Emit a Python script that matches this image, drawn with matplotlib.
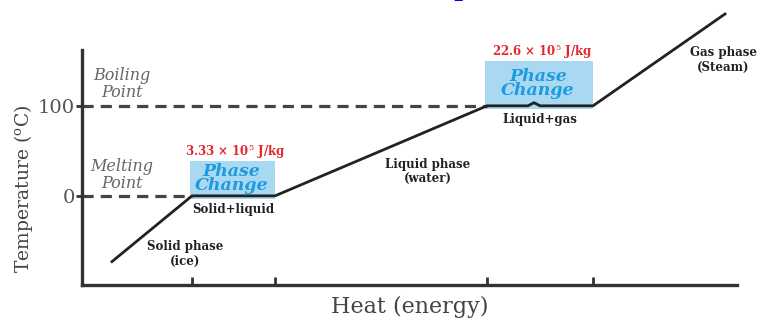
import matplotlib.pyplot as plt
from matplotlib.patches import Rectangle

plt.rcParams["font.family"] = "DejaVu Serif"
plt.rcParams["mathtext.fontset"] = "dejavuserif"

# heating curve of water (heat in arbitrary units, temperature in C)
heat = [30, 110, 193, 405, 446, 452, 458, 511, 643]
temp = [-73, 0, 0, 100, 100, 103.5, 100, 100, 202]

heat_ticks = [110, 193, 405, 511]
temp_ticks = [0, 100]
temp_ticklabels = ["0", "100"]

latent = ["3.33 × 10$^5$ J/kg", "22.6 × 10$^5$ J/kg"]
plateaus = [(110, 193, 0), (405, 511, 100)]
mixtures = ["Solid+liquid", "Liquid+gas"]

fig = plt.figure(figsize=(7.57, 3.2), dpi=100)
ax = fig.add_axes([82 / 757, 35 / 320, 655 / 757, 235 / 320])
ax.set_xlim(0, 655)
ax.set_ylim(-99, 162)

for s in ["top", "right"]:
    ax.spines[s].set_visible(False)
for s in ["left", "bottom"]:
    ax.spines[s].set_linewidth(2.4)
    ax.spines[s].set_color("#333333")

ax.set_xticks(heat_ticks)
ax.set_xticklabels([])
ax.tick_params(axis="x", direction="in", length=6, width=2, color="#333333")
ax.set_yticks(temp_ticks)
ax.set_yticklabels(temp_ticklabels, fontsize=14, color="#555555")
ax.tick_params(axis="y", direction="out", length=4, width=2, color="#333333", pad=1)

# shaded phase-change boxes
for (x0, x1, t), lab, mix in zip(plateaus, latent, mixtures):
    h = 42 if t == 0 else 53
    ax.add_patch(Rectangle((x0 - 2, t - 3), x1 - x0 + 2, h, facecolor="#a9d9f2",
                           edgecolor="none", zorder=1))
    xc = (x0 + x1) / 2
    ax.text(xc + 2, t + h + 7, lab, ha="center", va="center", fontsize=8.5,
            fontweight="bold", color="#e3262e")
    ax.text(xc - 2, t + h / 2 - 2, "Phase\nChange", ha="center", va="center",
            fontsize=12.5, style="italic", fontweight="bold", color="#1e9be0",
            linespacing=0.8)
    ax.text(xc, t - 15, mix, ha="center", va="center", fontsize=8.5,
            fontweight="bold", color="#222222")

# dashed guides to the melting / boiling points
ax.plot([0, heat[1]], [temp[1], temp[2]], ls=(0, (3.5, 2.2)), lw=2.3, color="#444444", zorder=2)
ax.plot([0, heat[3]], [temp[3], temp[4]], ls=(0, (3.5, 2.2)), lw=2.3, color="#444444", zorder=2)

ax.plot(heat, temp, color="#222222", lw=2, zorder=3, clip_on=False)

ax.text(40, 124, "Boiling\nPoint", ha="center", va="center", fontsize=11.5,
        style="italic", color="#666666", linespacing=1.0)
ax.text(40, 23, "Melting\nPoint", ha="center", va="center", fontsize=11.5,
        style="italic", color="#666666", linespacing=1.0)
ax.text(103, -65, "Solid phase\n(ice)", ha="center", va="center", fontsize=8.5,
        fontweight="bold", color="#222222")
ax.text(346, 27, "Liquid phase\n(water)", ha="center", va="center", fontsize=8.5,
        fontweight="bold", color="#222222")
ax.text(641, 151, "Gas phase\n(Steam)", ha="center", va="center", fontsize=8.5,
        fontweight="bold", color="#222222", clip_on=False)

ax.set_ylabel("Temperature ($^{\\rm o}$C)", fontsize=13.5, color="#444444")
ax.yaxis.set_label_coords(-0.072, 0.41)
ax.set_xlabel("Heat (energy)", fontsize=16, color="#444444", labelpad=4)

# blue text fragments cut off at the top edge
for fx, ch in [(462, "p"), (593, "("), (755, ".")]:
    fig.text(fx / 757, 1 + 4 / 320, ch, ha="center", va="baseline", fontsize=18,
             color="#0000ee", fontweight="bold")

fig.savefig("out.png", dpi=100)
